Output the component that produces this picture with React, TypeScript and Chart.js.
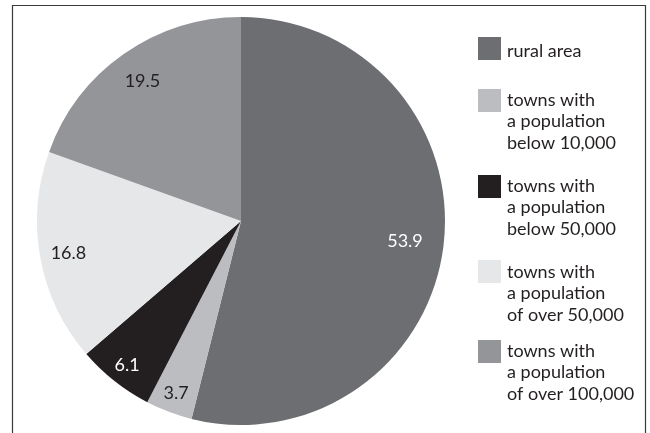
import React, { useEffect, useRef } from "react";
import { Chart, registerables } from "chart.js";

Chart.register(...registerables);

const categories: string[][] = [
  ["rural area"],
  ["towns with", "a population", "below 10,000"],
  ["towns with", "a population", "below 50,000"],
  ["towns with", "a population", "of over 50,000"],
  ["towns with", "a population", "of over 100,000"],
];
const shares: number[] = [53.9, 3.7, 6.1, 16.8, 19.5];
const valueLabels: string[] = ["53.9", "3.7", "6.1", "16.8", "19.5"];

const COLORS = ["#6d6e71", "#bcbdc0", "#231f20", "#e6e7e8", "#939598"];
const LABEL_COLORS = ["#ffffff", "#231f20", "#ffffff", "#231f20", "#231f20"];
const LABEL_RADIUS = [0.81, 0.9, 0.9, 0.86, 0.84];
const FONT = "18px Lato, 'Open Sans', sans-serif";
const LEGEND_BOX_X = 478;
const LEGEND_BOX = 23;
const LEGEND_TEXT_X = 507;
const LEGEND_TOPS = [37, 89, 175, 260, 340];
const LEGEND_FIRST_BASELINE = [20, 17, 17, 18, 17];
const LINE_H = 21.3;

const sliceLabels = {
  id: "sliceLabels",
  afterDatasetsDraw(chart: any) {
    const ctx = chart.ctx;
    const meta = chart.getDatasetMeta(0);
    ctx.save();
    ctx.font = FONT;
    ctx.textAlign = "center";
    ctx.textBaseline = "middle";
    meta.data.forEach((arc: any, i: number) => {
      const { x, y, startAngle, endAngle, outerRadius } = arc.getProps(
        ["x", "y", "startAngle", "endAngle", "outerRadius"],
        true
      );
      const mid = (startAngle + endAngle) / 2;
      const r = outerRadius * LABEL_RADIUS[i];
      ctx.fillStyle = LABEL_COLORS[i];
      ctx.fillText(valueLabels[i], x + Math.cos(mid) * r, y + Math.sin(mid) * r);
    });
    ctx.restore();
  },
};

const sideLegend = {
  id: "sideLegend",
  afterDraw(chart: any) {
    const ctx = chart.ctx;
    const ds = chart.data.datasets[0];
    ctx.save();
    ctx.font = FONT;
    ctx.textAlign = "left";
    ctx.textBaseline = "alphabetic";
    (chart.data.labels as string[][]).forEach((lines, i) => {
      const top = LEGEND_TOPS[i];
      ctx.fillStyle = ds.backgroundColor[i];
      ctx.fillRect(LEGEND_BOX_X, top, LEGEND_BOX, LEGEND_BOX);
      ctx.fillStyle = "#231f20";
      lines.forEach((line, j) => {
        ctx.fillText(line, LEGEND_TEXT_X, top + LEGEND_FIRST_BASELINE[i] + j * LINE_H);
      });
    });
    // frame (left, top, right)
    ctx.strokeStyle = "#3a3a3a";
    ctx.lineWidth = 1.2;
    ctx.beginPath();
    ctx.moveTo(12.5, 433);
    ctx.lineTo(12.5, 5.5);
    ctx.lineTo(645.5, 5.5);
    ctx.lineTo(645.5, 433);
    ctx.stroke();
    ctx.restore();
  },
};

export default function App() {
  const ref = useRef<HTMLCanvasElement | null>(null);
  useEffect(() => {
    if (!ref.current) return;
    const chart = new Chart(ref.current, {
      type: "pie",
      data: {
        labels: categories as any,
        datasets: [
          {
            data: shares,
            backgroundColor: COLORS,
            borderWidth: 0,
          },
        ],
      },
      options: {
        animation: false,
        responsive: false,
        devicePixelRatio: 1,
        layout: { padding: { left: 37, top: 17, right: 205, bottom: 8 } },
        plugins: {
          legend: { display: false },
          tooltip: { enabled: false },
        },
      },
      plugins: [sliceLabels, sideLegend],
    });
    return () => chart.destroy();
  }, []);
  return (
    <div style={{ position: "fixed", left: 0, top: 0, width: 650, height: 433, background: "#fff" }}>
      <canvas ref={ref} width={650} height={433} style={{ width: 650, height: 433 }} />
    </div>
  );
}
